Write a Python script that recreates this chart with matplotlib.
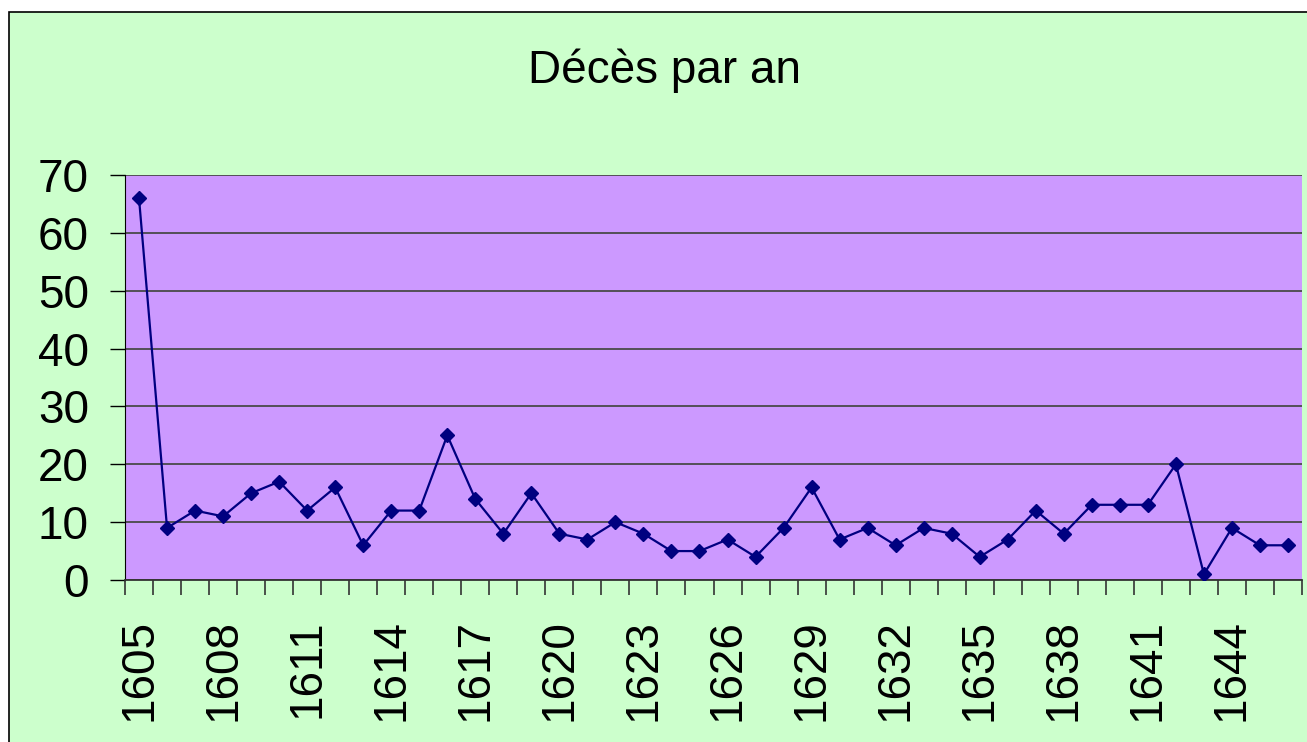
import matplotlib
matplotlib.use("Agg")
import matplotlib.pyplot as plt
from matplotlib.patches import Rectangle
from matplotlib.ticker import FixedLocator, NullFormatter

plt.rcParams["font.family"] = ["Liberation Sans", "DejaVu Sans"]

# Décès par an, 1605-1646
years = list(range(1605, 1647))
deces = [66, 9, 12, 11, 15, 17, 12, 16, 6, 12,
         12, 25, 14, 8, 15, 8, 7, 10, 8, 5,
         5, 7, 4, 9, 16, 7, 9, 6, 9, 8,
         4, 7, 12, 8, 13, 13, 13, 20, 1, 9,
         6, 6]
y_ticks = [0, 10, 20, 30, 40, 50, 60, 70]

W, H = 1307, 742
fig = plt.figure(figsize=(W / 100, H / 100), dpi=100, facecolor="white")

# chart area background with border (runs off the right/bottom edge)
fig.patches.append(Rectangle((9 / W, -0.2), 1.2, 1.2 - 12 / H, transform=fig.transFigure,
                             facecolor="#CCFFCC", edgecolor="black", linewidth=1.2,
                             zorder=-5))

ax = fig.add_axes([125 / W, 1 - 580 / H, (1302 - 125) / W, (580 - 175) / H])
ax.set_facecolor("#CC99FF")

x = list(range(len(years)))
ax.plot(x, deces, color="#000080", linewidth=1.6, marker="D", markersize=6.8,
        markerfacecolor="#000080", markeredgecolor="#000080", zorder=3)

ax.set_xlim(-0.5, len(years) - 0.5)
ax.set_ylim(0, 70)

# y axis
ax.set_yticks(y_ticks)
ax.set_yticklabels([str(v) for v in y_ticks])
ax.tick_params(axis="y", direction="out", length=11, width=1, pad=15,
               labelsize=33, color="black")
ax.yaxis.grid(True, color="#4a4a4a", linewidth=1.3)
ax.set_axisbelow(True)

# x axis: labels every 3 years at centres, tick marks at category boundaries
lab_pos = x[::3]
ax.set_xticks(lab_pos)
ax.set_xticklabels([str(years[i]) for i in lab_pos], rotation=90)
ax.xaxis.set_minor_locator(FixedLocator([i - 0.5 for i in range(len(years) + 1)]))
ax.xaxis.set_minor_formatter(NullFormatter())
ax.tick_params(axis="x", which="major", length=0, pad=28, labelsize=33)
ax.tick_params(axis="x", which="minor", direction="out", length=11, width=1.2,
               color="#333333")

for side in ["top", "right"]:
    ax.spines[side].set_visible(False)
ax.spines["left"].set_color("black")
ax.spines["bottom"].set_color("#333333")
ax.spines["bottom"].set_linewidth(1.3)

fig.text(665 / W, 1 - 83 / H, "Décès par an", ha="center", va="baseline",
         fontsize=33, color="black")

fig.savefig("out.png", dpi=100, facecolor="white")
